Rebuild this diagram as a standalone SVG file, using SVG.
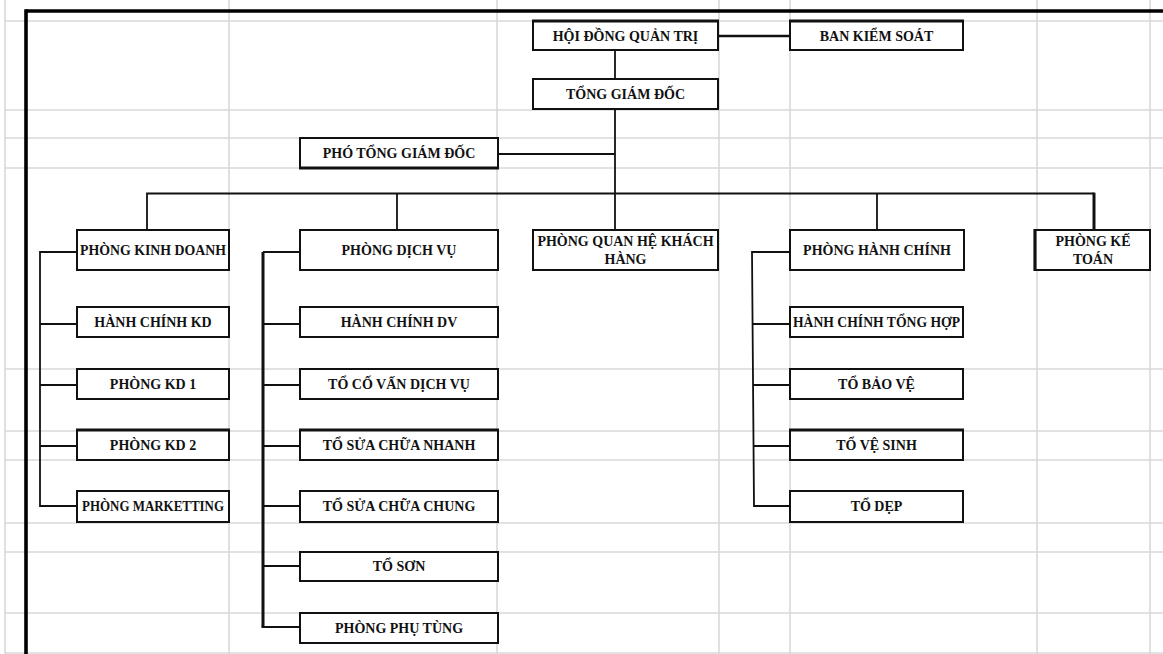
<svg xmlns="http://www.w3.org/2000/svg" width="1163" height="654" viewBox="0 0 1163 654">
  <style>
    .grid line { stroke: #d9d9d9; stroke-width: 1.6; }
    .box rect { fill: #ffffff; stroke: #111111; stroke-width: 2; }
    .box text { font-family: "Liberation Serif", "Times New Roman", serif; font-weight: bold; font-size: 14px; fill: #111111; text-anchor: middle; }
    .conn line, .conn polyline { stroke: #111111; stroke-width: 1.8; fill: none; }
    .conn .heavy { stroke-width: 3; }
    .edge { stroke: #111111; stroke-width: 3.2; }
    .frame line { stroke: #000000; stroke-width: 3.6; }
  </style>

  <rect x="0" y="0" width="1163" height="654" fill="#ffffff"/>

  <!-- sheet grid -->
  <g class="grid">
    <line x1="5" y1="0" x2="5" y2="654"/>
    <line x1="229" y1="0" x2="229" y2="654"/>
    <line x1="497" y1="0" x2="497" y2="654"/>
    <line x1="719" y1="0" x2="719" y2="654"/>
    <line x1="790" y1="0" x2="790" y2="654"/>
    <line x1="1037" y1="0" x2="1037" y2="654"/>
    <line x1="1150" y1="0" x2="1150" y2="654"/>
    <line x1="5" y1="21" x2="1163" y2="21"/>
    <line x1="5" y1="110" x2="1163" y2="110"/>
    <line x1="5" y1="138" x2="1163" y2="138"/>
    <line x1="5" y1="168" x2="1163" y2="168"/>
    <line x1="5" y1="369" x2="1163" y2="369"/>
    <line x1="5" y1="431" x2="1163" y2="431"/>
    <line x1="5" y1="460" x2="1163" y2="460"/>
    <line x1="5" y1="523" x2="1163" y2="523"/>
    <line x1="5" y1="552" x2="1163" y2="552"/>
    <line x1="5" y1="613" x2="1163" y2="613"/>
    <line x1="5" y1="653" x2="1163" y2="653"/>
  </g>

  <!-- outer frame -->
  <g class="frame">
    <line x1="26" y1="11" x2="1163" y2="11"/>
    <line x1="26" y1="9.2" x2="26" y2="654"/>
  </g>

  <!-- connectors -->
  <g id="connectors" class="conn">
    <line class="heavy" x1="718" y1="36" x2="790" y2="36" style="stroke-width:2.6"/>
    <line x1="615" y1="50" x2="615" y2="79"/>
    <line x1="615" y1="109" x2="615" y2="230"/>
    <line x1="498" y1="154" x2="615" y2="154"/>
    <polyline points="147,230 147,193.5 1094,193.5"/>
    <line x1="397" y1="193.5" x2="397" y2="230"/>
    <line x1="877" y1="193.5" x2="877" y2="230"/>
    <line class="heavy" x1="1094" y1="192.6" x2="1094" y2="230"/>

    <!-- PHÒNG KINH DOANH branch -->
    <polyline points="77,252 40,252 40,506 77,506"/>
    <line x1="40" y1="324" x2="77" y2="324"/>
    <line x1="40" y1="385" x2="77" y2="385"/>
    <line x1="40" y1="446" x2="77" y2="446"/>

    <!-- PHÒNG DỊCH VỤ branch -->
    <polyline class="heavy" points="263,252 263,627"/>
    <line x1="263" y1="252" x2="300" y2="252"/>
    <line x1="263" y1="324" x2="300" y2="324"/>
    <line x1="263" y1="385" x2="300" y2="385"/>
    <line x1="263" y1="446" x2="300" y2="446"/>
    <line x1="263" y1="506" x2="300" y2="506"/>
    <line x1="263" y1="566" x2="300" y2="566"/>
    <line x1="261.5" y1="627" x2="300" y2="627"/>

    <!-- PHÒNG HÀNH CHÍNH branch -->
    <polyline points="790,252 752,252 754,506 790,506"/>
    <line x1="752.5" y1="324" x2="790" y2="324"/>
    <line x1="753" y1="385" x2="790" y2="385"/>
    <line x1="753.5" y1="446" x2="790" y2="446"/>
  </g>

  <!-- nodes -->
  <g id="hoi-dong-quan-tri" class="box">
    <rect x="533" y="21" width="185" height="29"/>
    <line class="edge" x1="532" y1="21" x2="719" y2="21"/>
    <text x="625.5" y="41">HỘI ĐỒNG QUẢN TRỊ</text>
  </g>
  <g id="ban-kiem-soat" class="box">
    <rect x="790" y="21" width="173" height="29"/>
    <line class="edge" x1="789" y1="21" x2="964" y2="21"/>
    <text x="876.5" y="41">BAN KIỂM SOÁT</text>
  </g>
  <g id="tong-giam-doc" class="box">
    <rect x="533" y="79" width="185" height="30"/>
    <text x="625.5" y="99">TỔNG GIÁM ĐỐC</text>
  </g>
  <g id="pho-tong-giam-doc" class="box">
    <rect x="300" y="138" width="198" height="30"/>
    <line class="edge" x1="299" y1="168" x2="499" y2="168"/>
    <text x="399" y="158">PHÓ TỔNG GIÁM ĐỐC</text>
  </g>

  <g id="phong-kinh-doanh" class="box">
    <rect x="77" y="230" width="152" height="40"/>
    <text x="153" y="255" textLength="146" lengthAdjust="spacingAndGlyphs">PHÒNG KINH DOANH</text>
  </g>
  <g id="phong-dich-vu" class="box">
    <rect x="300" y="230" width="198" height="40"/>
    <text x="399" y="255">PHÒNG DỊCH VỤ</text>
  </g>
  <g id="phong-quan-he-khach-hang" class="box">
    <rect x="533" y="230" width="185" height="40"/>
    <text x="625.5" y="246">PHÒNG QUAN HỆ KHÁCH</text>
    <text x="625.5" y="264">HÀNG</text>
  </g>
  <g id="phong-hanh-chinh" class="box">
    <rect x="790" y="230" width="174" height="40"/>
    <text x="877" y="255">PHÒNG HÀNH CHÍNH</text>
  </g>
  <g id="phong-ke-toan" class="box">
    <rect x="1035" y="230" width="115" height="40"/>
    <line class="edge" x1="1035" y1="229" x2="1035" y2="271"/>
    <text x="1093" y="246">PHÒNG KẾ</text>
    <text x="1093" y="264">TOÁN</text>
  </g>

  <g id="hanh-chinh-kd" class="box">
    <rect x="77" y="307" width="152" height="30"/>
    <text x="153" y="327">HÀNH CHÍNH KD</text>
  </g>
  <g id="phong-kd-1" class="box">
    <rect x="77" y="369" width="152" height="30"/>
    <text x="153" y="389">PHÒNG KD 1</text>
  </g>
  <g id="phong-kd-2" class="box">
    <rect x="77" y="430" width="152" height="30"/>
    <line class="edge" x1="76" y1="430" x2="230" y2="430"/>
    <text x="153" y="450">PHÒNG KD 2</text>
  </g>
  <g id="phong-marketting" class="box">
    <rect x="77" y="491" width="152" height="31"/>
    <text x="153" y="511" textLength="142" lengthAdjust="spacingAndGlyphs">PHÒNG MARKETTING</text>
  </g>

  <g id="hanh-chinh-dv" class="box">
    <rect x="300" y="307" width="198" height="30"/>
    <text x="399" y="327">HÀNH CHÍNH DV</text>
  </g>
  <g id="to-co-van-dich-vu" class="box">
    <rect x="300" y="369" width="198" height="30"/>
    <text x="399" y="389">TỔ CỐ VẤN DỊCH VỤ</text>
  </g>
  <g id="to-sua-chua-nhanh" class="box">
    <rect x="300" y="430" width="198" height="30"/>
    <line class="edge" x1="299" y1="430" x2="499" y2="430"/>
    <text x="399" y="450">TỔ SỬA CHỮA NHANH</text>
  </g>
  <g id="to-sua-chua-chung" class="box">
    <rect x="300" y="491" width="198" height="31"/>
    <text x="399" y="511">TỔ SỬA CHỮA CHUNG</text>
  </g>
  <g id="to-son" class="box">
    <rect x="300" y="552" width="198" height="29"/>
    <text x="399" y="571">TỔ SƠN</text>
  </g>
  <g id="phong-phu-tung" class="box">
    <rect x="300" y="613" width="198" height="30"/>
    <text x="399" y="633">PHÒNG PHỤ TÙNG</text>
  </g>

  <g id="hanh-chinh-tong-hop" class="box">
    <rect x="790" y="307" width="173" height="30"/>
    <text x="876.5" y="327" textLength="167" lengthAdjust="spacingAndGlyphs">HÀNH CHÍNH TỔNG HỢP</text>
  </g>
  <g id="to-bao-ve" class="box">
    <rect x="790" y="369" width="173" height="30"/>
    <text x="876.5" y="389">TỔ BẢO VỆ</text>
  </g>
  <g id="to-ve-sinh" class="box">
    <rect x="790" y="430" width="173" height="30"/>
    <line class="edge" x1="789" y1="430" x2="964" y2="430"/>
    <text x="876.5" y="450">TỔ VỆ SINH</text>
  </g>
  <g id="to-dep" class="box">
    <rect x="790" y="491" width="173" height="31"/>
    <text x="876.5" y="511">TỔ DẸP</text>
  </g>
</svg>
